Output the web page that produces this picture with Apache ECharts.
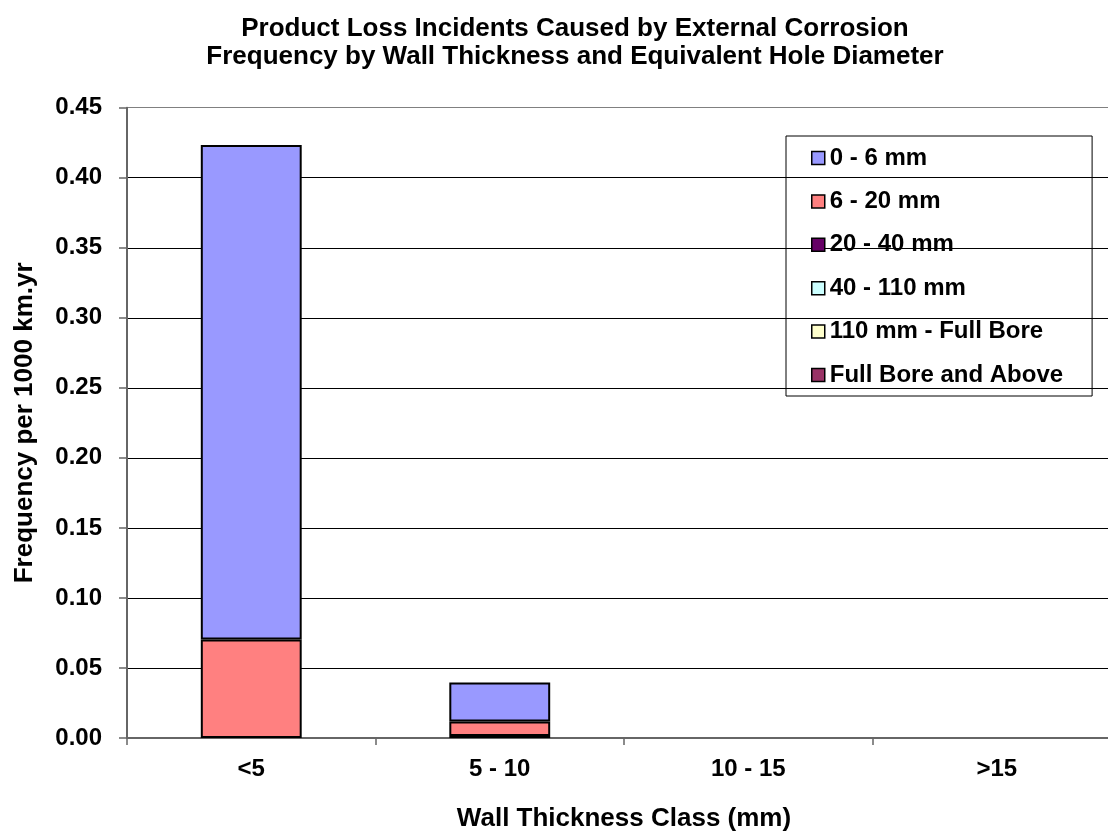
<!DOCTYPE html>
<html>
<head>
<meta charset="utf-8">
<script src="https://cdn.jsdelivr.net/npm/echarts@6/dist/echarts.min.js"></script>
<style>
html,body{margin:0;padding:0;background:#fff;overflow:hidden;}
#chart{width:1121px;height:837px;}
</style>
</head>
<body>
<div id="chart"></div>
<script>
var titleLines = ['Product Loss Incidents Caused by External Corrosion', 'Frequency by Wall Thickness and Equivalent Hole Diameter'];
var xAxisName = 'Wall Thickness Class (mm)';
var yAxisName = 'Frequency per 1000 km.yr';
var categories = ['<5', '5 - 10', '10 - 15', '>15'];
var seriesNames = ['0 - 6 mm', '6 - 20 mm', '20 - 40 mm', '40 - 110 mm', '110 mm - Full Bore', 'Full Bore and Above'];
var seriesColors = ['#9999FF', '#FF8080', '#660066', '#CCFFFF', '#FFFFCC', '#993366'];
var vals_0_6 = [0.353, 0.0279, null, null];
var vals_6_20 = [0.0704, 0.0102, null, null];
var vals_20_40 = [null, 0.0015, null, null];
var vals_40_110 = [null, null, null, null];
var vals_110_fb = [null, null, null, null];
var vals_fb_above = [null, null, null, null];
var yMin = 0, yMax = 0.45, yInterval = 0.05;

var seriesValues = [vals_0_6, vals_6_20, vals_20_40, vals_40_110, vals_110_fb, vals_fb_above];
var FONT = 'Liberation Sans, Arial, sans-serif';

// stacking bottom-to-top is reverse of legend order (Excel style)
var series = [];
for (var i = seriesNames.length - 1; i >= 0; i--) {
  series.push({
    name: seriesNames[i],
    type: 'bar',
    stack: 'total',
    barWidth: '40.6%',
    data: seriesValues[i],
    itemStyle: { color: seriesColors[i], borderColor: '#000', borderWidth: 2 },
    emphasis: { disabled: true }
  });
}

var splitColors = [];
for (var k = 0; k < 10; k++) splitColors.push(k === 9 ? '#808080' : '#000');

var chart = echarts.init(document.getElementById('chart'), null, { renderer: 'canvas' });
chart.setOption({
  animation: false,
  backgroundColor: '#fff',
  title: {
    text: titleLines.join('\n'),
    left: 570,
    textAlign: 'center',
    top: 10,
    textStyle: { fontFamily: FONT, fontWeight: 'bold', fontSize: 26, lineHeight: 28, color: '#000' }
  },
  legend: {
    orient: 'vertical',
    left: 786,
    top: 136,
    data: seriesNames,
    itemWidth: 13,
    itemHeight: 13,
    itemGap: 19.4,
    padding: [10, 29, 9, 25],
    borderColor: '#000',
    borderWidth: 1,
    icon: 'rect',
    selectedMode: false,
    itemStyle: { borderWidth: 1.5 },
    textStyle: { fontFamily: FONT, fontWeight: 'bold', fontSize: 24, lineHeight: 24, color: '#000' }
  },
  grid: { left: 127, right: 0, top: 107.7, bottom: 93.5, containLabel: false },
  xAxis: {
    type: 'category',
    data: categories,
    name: xAxisName,
    nameLocation: 'middle',
    nameGap: 68,
    nameTextStyle: { fontFamily: FONT, fontWeight: 'bold', fontSize: 26, color: '#000' },
    axisLine: { lineStyle: { color: '#666', width: 2 } },
    axisTick: { show: true, length: 7, lineStyle: { color: '#666', width: 1.5 } },
    axisLabel: { margin: 19, fontFamily: FONT, fontWeight: 'bold', fontSize: 24, color: '#000' },
    splitLine: { show: false }
  },
  yAxis: {
    type: 'value',
    min: yMin,
    max: yMax,
    interval: yInterval,
    name: yAxisName,
    nameLocation: 'middle',
    nameGap: 89,
    nameTextStyle: { fontFamily: FONT, fontWeight: 'bold', fontSize: 26, color: '#000' },
    axisLine: { show: true, lineStyle: { color: '#666', width: 2 } },
    axisTick: { show: true, length: 8, lineStyle: { color: '#666', width: 1.5 } },
    axisLabel: { margin: 25, fontFamily: FONT, fontWeight: 'bold', fontSize: 24, color: '#000',
      formatter: function (v) { return v.toFixed(2); } },
    splitLine: { show: true, lineStyle: { color: splitColors, width: 1 } }
  },
  series: series
});
</script>
</body>
</html>
